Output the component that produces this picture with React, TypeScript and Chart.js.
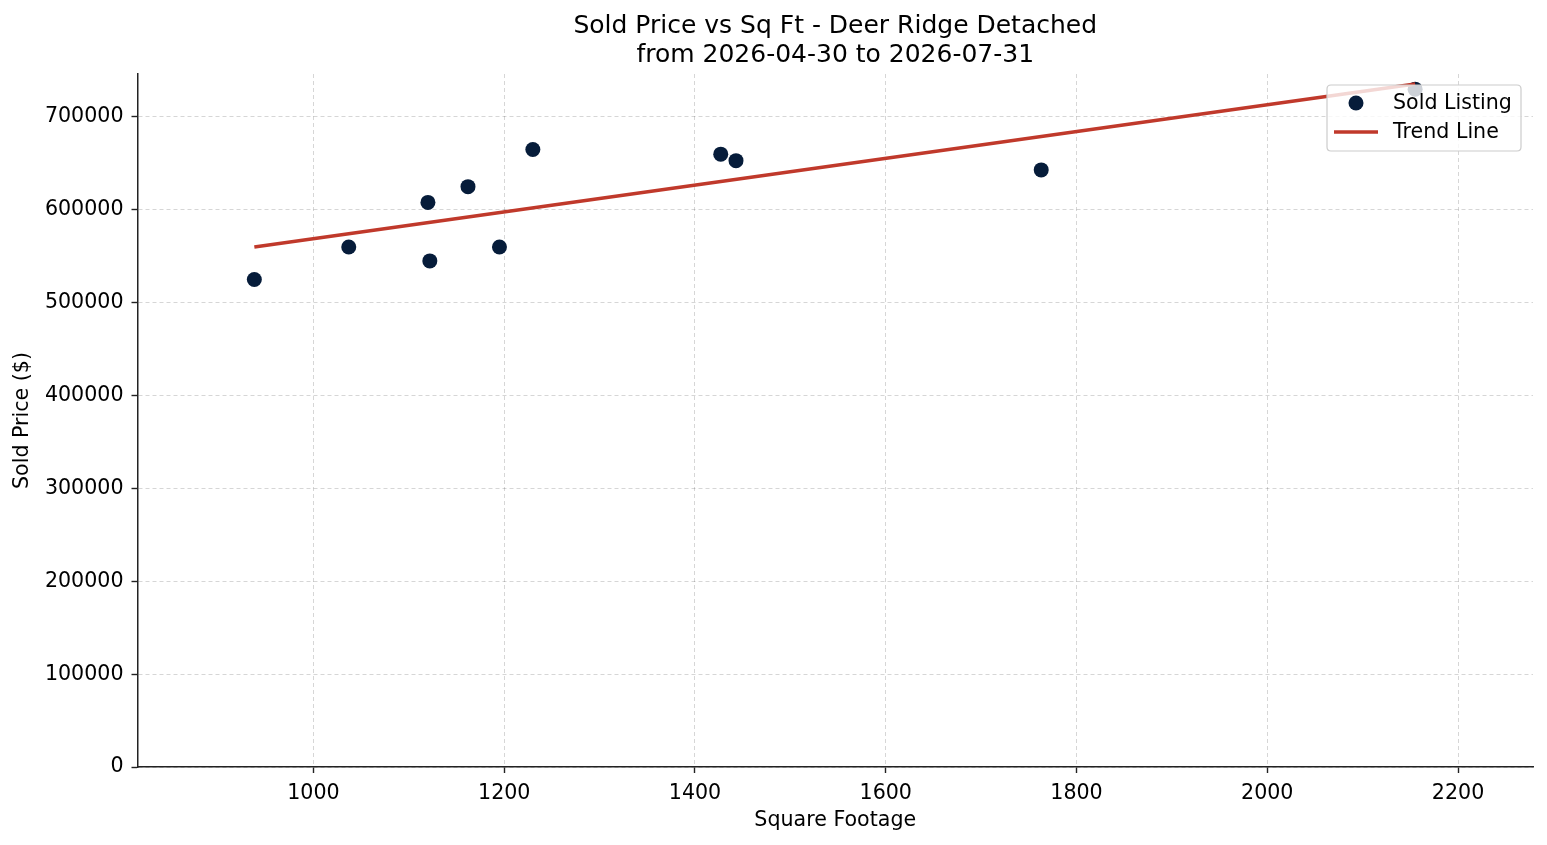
import React, { useEffect, useRef } from "react";
import { Chart, registerables } from "chart.js";

Chart.register(...registerables);

const sqft: number[] = [938, 1037, 1120, 1122, 1162, 1195, 1230, 1427, 1443, 1763, 2155];
const soldPrice: number[] = [525000, 560000, 608000, 545000, 625000, 560000, 665000, 660000, 653000, 643000, 730000];
const trendX: number[] = [938, 2155];
const trendY: number[] = [560000, 735500];
const xTicks: number[] = [1000, 1200, 1400, 1600, 1800, 2000, 2200];
const yTicks: number[] = [0, 100000, 200000, 300000, 400000, 500000, 600000, 700000];
const xRange: number[] = [815.5, 2278.6];
const yRange: number[] = [0, 746300];

const titleLines = ["Sold Price vs Sq Ft - Deer Ridge Detached", "from 2026-04-30 to 2026-07-31"];
const xLabel = "Square Footage";
const yLabel = "Sold Price ($)";
const seriesNames = ["Sold Listing", "Trend Line"];

const FONT = "'DejaVu Sans', sans-serif";
const POINT_COLOR = "#061c3a";
const LINE_COLOR = "#c0392b";
const TICK_SIZE = 20.6;
const TITLE_SIZE = 25;

const textPlugin = {
  id: "customText",
  afterDraw(chart: any) {
    const { ctx, chartArea } = chart;
    const cx = (chartArea.left + chartArea.right) / 2;
    ctx.save();
    ctx.fillStyle = "#000";
    ctx.textAlign = "center";
    ctx.textBaseline = "middle";
    ctx.font = `${TITLE_SIZE}px ${FONT}`;
    ctx.fillText(titleLines[0], cx, 26.5);
    ctx.fillText(titleLines[1], cx, 55.5);
    ctx.font = `${TICK_SIZE}px ${FONT}`;
    ctx.fillText(xLabel, cx, 820.5);
    ctx.translate(23, (chartArea.top + chartArea.bottom) / 2);
    ctx.rotate(-Math.PI / 2);
    ctx.fillText(yLabel, 0, 0);
    ctx.restore();

    // legend
    const boxRight = chartArea.right - 12;
    const boxTop = chartArea.top + 11;
    const boxW = 194;
    const boxH = 66;
    const bx = boxRight - boxW;
    ctx.save();
    ctx.beginPath();
    const r = 4;
    ctx.moveTo(bx + r, boxTop);
    ctx.lineTo(bx + boxW - r, boxTop);
    ctx.quadraticCurveTo(bx + boxW, boxTop, bx + boxW, boxTop + r);
    ctx.lineTo(bx + boxW, boxTop + boxH - r);
    ctx.quadraticCurveTo(bx + boxW, boxTop + boxH, bx + boxW - r, boxTop + boxH);
    ctx.lineTo(bx + r, boxTop + boxH);
    ctx.quadraticCurveTo(bx, boxTop + boxH, bx, boxTop + boxH - r);
    ctx.lineTo(bx, boxTop + r);
    ctx.quadraticCurveTo(bx, boxTop, bx + r, boxTop);
    ctx.closePath();
    ctx.fillStyle = "rgba(255,255,255,0.8)";
    ctx.fill();
    ctx.strokeStyle = "#cccccc";
    ctx.lineWidth = 1.2;
    ctx.stroke();

    const row1 = boxTop + 18;
    const row2 = boxTop + 47;
    ctx.fillStyle = POINT_COLOR;
    ctx.beginPath();
    ctx.arc(bx + 29, row1, 7.5, 0, Math.PI * 2);
    ctx.fill();
    ctx.strokeStyle = LINE_COLOR;
    ctx.lineWidth = 3.5;
    ctx.beginPath();
    ctx.moveTo(bx + 7, row2);
    ctx.lineTo(bx + 51, row2);
    ctx.stroke();
    ctx.fillStyle = "#000";
    ctx.font = `${TICK_SIZE}px ${FONT}`;
    ctx.textAlign = "left";
    ctx.textBaseline = "middle";
    ctx.fillText(seriesNames[0], bx + 66, row1 + 1);
    ctx.fillText(seriesNames[1], bx + 66, row2 + 1);
    ctx.restore();
  },
};

export default function App() {
  const ref = useRef<HTMLCanvasElement | null>(null);

  useEffect(() => {
    if (!ref.current) return;
    const gridCommon = {
      color: "rgba(0,0,0,0.16)",
      lineWidth: 1,
      tickColor: "#222",
      tickLength: 6,
      tickWidth: 1.4,
    };
    const chart = new Chart(ref.current, {
      type: "scatter",
      data: {
        datasets: [
          {
            type: "scatter",
            label: seriesNames[0],
            data: sqft.map((x, i) => ({ x, y: soldPrice[i] })),
            backgroundColor: POINT_COLOR,
            borderWidth: 0,
            pointRadius: 7.5,
            order: 1,
          } as any,
          {
            type: "line",
            label: seriesNames[1],
            data: trendX.map((x, i) => ({ x, y: trendY[i] })),
            borderColor: LINE_COLOR,
            borderWidth: 3.5,
            pointRadius: 0,
            showLine: true,
            fill: false,
            order: 0,
          } as any,
        ],
      },
      options: {
        responsive: false,
        animation: false,
        layout: { padding: { left: 0, right: 14, top: 74, bottom: 0 } },
        plugins: {
          legend: { display: false },
          title: { display: false },
          tooltip: { enabled: false },
        },
        scales: {
          x: {
            type: "linear",
            min: xRange[0],
            max: xRange[1],
            afterBuildTicks: (s: any) => {
              s.ticks = xTicks.map((v) => ({ value: v }));
            },
            afterFit: (s: any) => {
              s.height = 845 - 767;
            },
            grid: { ...gridCommon },
            border: { display: true, color: "#222", width: 1.5, dash: [4, 3] },
            ticks: {
              color: "#000",
              font: { family: FONT, size: TICK_SIZE },
              padding: 8,
              maxRotation: 0,
              callback: (v: any) => String(v),
            },
          },
          y: {
            type: "linear",
            min: yRange[0],
            max: yRange[1],
            afterBuildTicks: (s: any) => {
              s.ticks = yTicks.map((v) => ({ value: v }));
            },
            afterFit: (s: any) => {
              s.width = 137.5;
            },
            grid: { ...gridCommon },
            border: { display: true, color: "#222", width: 1.5, dash: [4, 3] },
            ticks: {
              color: "#000",
              font: { family: FONT, size: TICK_SIZE },
              padding: 8,
              callback: (v: any) => String(v),
            },
          },
        },
      },
      plugins: [textPlugin],
    } as any);
    return () => chart.destroy();
  }, []);

  return (
    <div style={{ position: "absolute", left: 0, top: 0, width: 1547, height: 845, background: "#fff" }}>
      <canvas ref={ref} width={1547} height={845} style={{ display: "block" }} />
    </div>
  );
}
